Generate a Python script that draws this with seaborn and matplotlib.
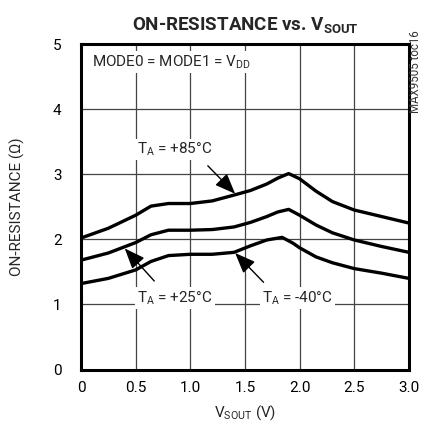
import matplotlib
matplotlib.use("Agg")
import matplotlib.pyplot as plt
import seaborn as sns
import pandas as pd
from matplotlib import font_manager

# ---- data ----
x_85 = [0, 0.25, 0.5, 0.64, 0.8, 1.0, 1.2, 1.4, 1.55, 1.7, 1.8, 1.9, 2.0, 2.15, 2.3, 2.5, 2.75, 3.0]
r_85 = [2.02, 2.17, 2.37, 2.51, 2.55, 2.55, 2.59, 2.68, 2.75, 2.85, 2.94, 3.01, 2.93, 2.74, 2.58, 2.45, 2.35, 2.25]
x_25 = [0, 0.25, 0.5, 0.64, 0.8, 1.0, 1.2, 1.4, 1.55, 1.7, 1.8, 1.9, 2.0, 2.15, 2.3, 2.5, 2.75, 3.0]
r_25 = [1.68, 1.79, 1.95, 2.07, 2.14, 2.14, 2.15, 2.19, 2.26, 2.35, 2.42, 2.46, 2.37, 2.22, 2.10, 1.99, 1.89, 1.80]
x_m40 = [0, 0.25, 0.5, 0.64, 0.8, 1.0, 1.2, 1.4, 1.55, 1.7, 1.84, 1.94, 2.0, 2.15, 2.3, 2.5, 2.75, 3.0]
r_m40 = [1.32, 1.40, 1.53, 1.66, 1.75, 1.77, 1.77, 1.80, 1.90, 1.99, 2.03, 1.94, 1.87, 1.73, 1.64, 1.55, 1.48, 1.40]
series_names = ["+85", "+25", "-40"]
x_ticks = [0, 0.5, 1.0, 1.5, 2.0, 2.5, 3.0]
x_tick_labels = ["0", "0.5", "1.0", "1.5", "2.0", "2.5", "3.0"]
y_ticks = [0, 1, 2, 3, 4, 5]

df = pd.concat([
    pd.DataFrame({"V": x_85, "R": r_85, "T": series_names[0]}),
    pd.DataFrame({"V": x_25, "R": r_25, "T": series_names[1]}),
    pd.DataFrame({"V": x_m40, "R": r_m40, "T": series_names[2]}),
])

sns.set_theme(style="white")
avail = {f.name for f in font_manager.fontManager.ttflist}
narrow = "Liberation Sans Narrow" if "Liberation Sans Narrow" in avail else "Roboto"
plt.rcParams["font.family"] = [narrow, "DejaVu Sans"]
plt.rcParams["mathtext.fontset"] = "custom"
plt.rcParams["mathtext.rm"] = narrow
plt.rcParams["mathtext.it"] = narrow
plt.rcParams["mathtext.bf"] = narrow + ":bold"

fig = plt.figure(figsize=(4.22, 4.36), dpi=100)
ax = fig.add_axes([0.192, 0.1525, 0.777, 0.7465])

sns.lineplot(data=df, x="V", y="R", hue="T", units="T", estimator=None,
             palette=["black", "black", "black"], linewidth=2.4, legend=False,
             sort=False, ax=ax, zorder=3)

ax.set_xlim(0, 3.0)
ax.set_ylim(0, 5)
ax.set_xticks(x_ticks)
ax.set_xticklabels(x_tick_labels)
ax.set_yticks(y_ticks)
ax.tick_params(axis="both", length=0, labelsize=11, colors="black")
ax.tick_params(axis="x", pad=8)
ax.tick_params(axis="y", pad=14)
ax.grid(True, color="#444444", linewidth=0.9)
for s in ax.spines.values():
    s.set_visible(True)
    s.set_color("black")
    s.set_linewidth(2.2)

ax.set_xlabel(r"$\mathregular{V_{SOUT}}$ (V)", fontsize=11, labelpad=6)
ax.set_ylabel("ON-RESISTANCE (Ω)", fontsize=11, labelpad=20)

ax.set_title(r"ON-RESISTANCE vs. $\mathbf{V_{SOUT}}$", fontsize=13.5,
             fontweight="bold", pad=10)

box = dict(facecolor="white", edgecolor="none", pad=1.5)
ax.text(0.1, 4.72, r"MODE0 = MODE1 = $\mathregular{V_{DD}}$", fontsize=11,
        va="center", ha="left", bbox=box, zorder=4)
ax.text(0.86, 3.38, r"$\mathregular{T_A}$ = +85°C", fontsize=11, ha="center",
        va="center", bbox=box, zorder=4)
ax.text(0.86, 1.1, r"$\mathregular{T_A}$ = +25°C", fontsize=11, ha="center",
        va="center", bbox=box, zorder=4)
ax.text(1.98, 1.1, r"$\mathregular{T_A}$ = -40°C", fontsize=11, ha="center",
        va="center", bbox=box, zorder=4)

arrow = dict(arrowstyle="-|>,head_length=0.7,head_width=0.28", color="black",
             linewidth=1.0, mutation_scale=18, shrinkA=0, shrinkB=0)
ax.annotate("", xy=(1.41, 2.70), xytext=(1.16, 3.13), arrowprops=arrow, zorder=5)
ax.annotate("", xy=(0.40, 1.86), xytext=(0.67, 1.36), arrowprops=arrow, zorder=5)
ax.annotate("", xy=(1.41, 1.79), xytext=(1.67, 1.34), arrowprops=arrow, zorder=5)

fig.text(0.984, 0.835, "MAX9505 toc16", rotation=90, fontsize=8.3,
         ha="center", va="center", color="#333333")

fig.savefig("out.png", dpi=100)
